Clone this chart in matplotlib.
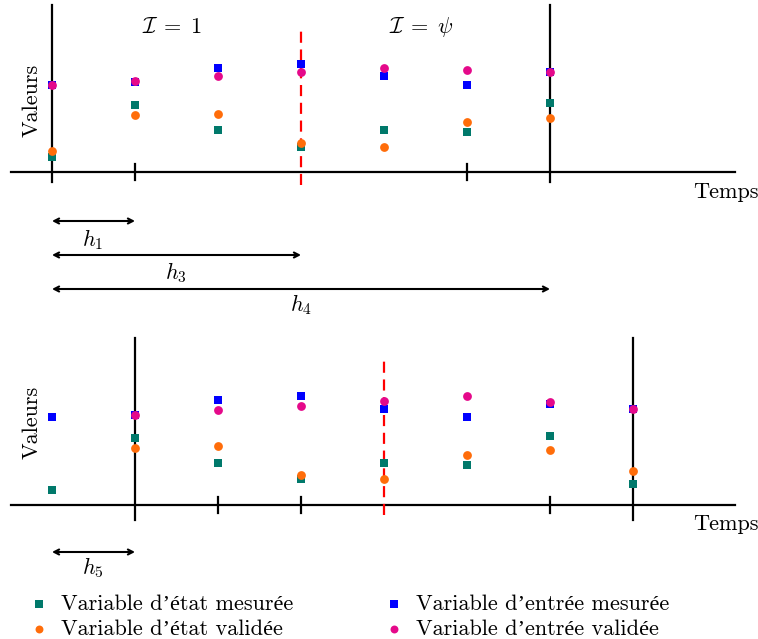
import matplotlib
matplotlib.use('Agg')
import matplotlib.pyplot as plt
import numpy as np

plt.rcParams['font.family'] = ['cmr10', 'Liberation Serif']
plt.rcParams['mathtext.fontset'] = 'cm'
plt.rcParams['axes.unicode_minus'] = False

# time steps (index) and values (height above the time axis)
t_top = np.arange(7)
etat_mes_top = [15, 67, 42, 25, 42, 40, 69]
etat_val_top = [21, 57, 58, 29, 25, 50, 54]
entree_mes_top = [87, 90, 104, 108, 96, 87, 100]
entree_val_top = [87, 91, 96, 100, 104, 102, 100]

t_bot = np.arange(8)
etat_mes_bot = [15, 67, 42, 26, 42, 40, 69, 21]
etat_val_bot = [np.nan, 57, 59, 30, 26, 50, 55, 34]
entree_mes_bot = [88, 90, 105, 109, 96, 88, 101, 96]
entree_val_bot = [np.nan, 90, 95, 99, 104, 109, 103, 96]

labels = ['Variable d\u2019état mesurée', 'Variable d\u2019état validée',
          'Variable d\u2019entrée mesurée', 'Variable d\u2019entrée validée']
c_etat_mes = '#00796b'
c_etat_val = '#ff6d0a'
c_entree_mes = '#0000ff'
c_entree_val = '#e5098a'

fig = plt.figure(figsize=(7.58, 6.39), dpi=100)
ax1 = fig.add_axes([0, 1 - 320 / 639, 1, 320 / 639])
ax2 = fig.add_axes([0, 0, 1, 319 / 639])
ax1.set_xlim(-52 / 83, 706 / 83)
ax1.set_ylim(-148, 172)
ax2.set_xlim(-52 / 83, 706 / 83)
ax2.set_ylim(-134, 185)
for ax in (ax1, ax2):
    ax.axis('off')
    ax.plot([-0.5, 8.23], [0, 0], color='black', lw=1.6)

lw = 1.6
# top panel structure
ax1.plot([0, 0], [-10, 167], color='black', lw=lw)
ax1.plot([6, 6], [-10, 167], color='black', lw=lw)
ax1.plot([3, 3], [-13, 147], color='red', lw=lw, ls=(0, (5, 3)))
for t in [1, 5]:
    ax1.plot([t, t], [-8, 8], color='black', lw=lw)
# bottom panel structure
ax2.plot([1, 1], [-15, 167], color='black', lw=lw)
ax2.plot([7, 7], [-15, 167], color='black', lw=lw)
ax2.plot([4, 4], [-10, 147], color='red', lw=lw, ls=(0, (5, 3)))
for t in [2, 3, 6]:
    ax2.plot([t, t], [-8, 8], color='black', lw=lw)

def draw_points(ax, t, em, ev, nm, nv):
    a = ax.scatter(t, em, marker='s', s=36, color=c_etat_mes, lw=0, zorder=3, label=labels[0])
    c = ax.scatter(t, nm, marker='s', s=36, color=c_entree_mes, lw=0, zorder=3, label=labels[2])
    b = ax.scatter(t, ev, marker='o', s=40, color=c_etat_val, lw=0, zorder=4, label=labels[1])
    d = ax.scatter(t, nv, marker='o', s=40, color=c_entree_val, lw=0, zorder=4, label=labels[3])
    return [a, b, c, d]

draw_points(ax1, t_top, etat_mes_top, etat_val_top, entree_mes_top, entree_val_top)
handles = draw_points(ax2, t_bot, etat_mes_bot, etat_val_bot, entree_mes_bot, entree_val_bot)

fs = 16
ax1.text(1.446, 145, r'$\mathcal{I}\;=\;1$', fontsize=fs, ha='center', va='center')
ax1.text(4.446, 145, r'$\mathcal{I}\;=\;\psi$', fontsize=fs, ha='center', va='center')
ax1.text(-0.241, 72, 'Valeurs', rotation=90, fontsize=fs, ha='center', va='center')
ax2.text(-0.241, 83, 'Valeurs', rotation=90, fontsize=fs, ha='center', va='center')
ax1.text(8.12, -20, 'Temps', fontsize=fs, ha='center', va='center')
ax2.text(8.12, -19, 'Temps', fontsize=fs, ha='center', va='center')

# interval arrows
arrows_top = [(1, -49, r'$h_1$', 0.494, -68), (3, -83, r'$h_3$', 1.494, -101),
              (6, -117, r'$h_4$', 3.0, -133)]
aprops = dict(arrowstyle='<->, head_length=0.35, head_width=0.18', color='black', lw=1.5,
              shrinkA=0, shrinkB=0)
for end, y, lab, lx, ly in arrows_top:
    ax1.annotate('', xy=(end, y), xytext=(0, y), arrowprops=aprops)
    ax1.text(lx, ly, lab, fontsize=fs, ha='center', va='center')
ax2.annotate('', xy=(1, -47), xytext=(0, -47), arrowprops=aprops)
ax2.text(0.494, -63, r'$h_5$', fontsize=fs, ha='center', va='center')

fig.legend(handles=handles, ncol=2, loc='upper left', bbox_to_anchor=(17 / 758, 1 - 583 / 639),
           frameon=False, fontsize=fs, handletextpad=0.5, columnspacing=4.0,
           labelspacing=0.26, borderpad=0, handlelength=1.0, markerscale=0.9)

fig.savefig('out.png', dpi=100)
